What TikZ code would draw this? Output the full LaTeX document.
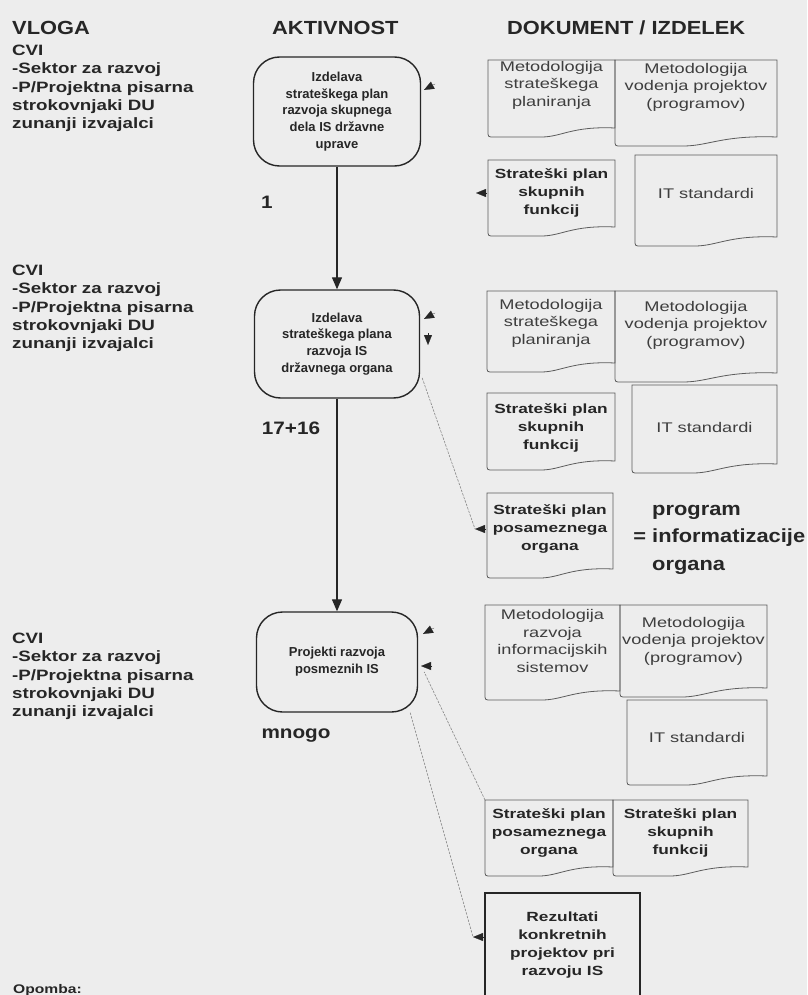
\documentclass[tikz,border=0pt]{standalone}
\usepackage{fontspec}
\setmainfont{Liberation Sans}
\newfontfamily\headfont[FakeStretch=1.15]{Liberation Sans}
\newfontfamily\rolefont[FakeStretch=1.25]{Liberation Sans}
\newfontfamily\actfont{Liberation Sans}
\newfontfamily\docfont[FakeStretch=1.3]{Liberation Sans}
\newfontfamily\bigfont[FakeStretch=1.15]{Liberation Sans}
\usetikzlibrary{arrows.meta,calc}

\definecolor{paper}{RGB}{237,237,237}
\definecolor{ink}{RGB}{38,38,38}
\definecolor{docink}{RGB}{62,62,62}
\definecolor{docedge}{RGB}{92,92,92}
\definecolor{thinline}{RGB}{135,135,135}

\tikzset{
  head/.style={anchor=base west, inner sep=0, text=ink,
    font=\headfont\bfseries\fontsize{19}{22}\selectfont},
  role/.style={anchor=north west, inner sep=0, align=left, text=ink,
    font=\rolefont\bfseries\fontsize{15}{18.3}\selectfont},
  activity/.style={draw=ink, line width=1.4pt, rounded corners=26pt,
    align=center, text=ink, inner sep=0,
    font=\actfont\bfseries\fontsize{13}{16.8}\selectfont},
  count/.style={inner sep=0, text=ink,
    font=\bigfont\bfseries\fontsize{18}{21}\selectfont},
  doctext/.style={anchor=north west, inner sep=0, outer sep=0, align=center,
    text=docink, font=\docfont\fontsize{14}{17.5}\selectfont},
  docbold/.style={doctext, text=ink,
    font=\docfont\bfseries\fontsize{13.3}{18}\selectfont},
  docline/.style={draw=docedge, line width=0.8pt},
  result/.style={docbold, draw=ink, line width=1.3pt},
  flow/.style={draw=ink, line width=1.3pt, -{Triangle[width=10pt,length=12pt]}},
  stub/.style={draw=ink, line width=0.2pt, -{Triangle[width=8pt,length=10pt]}},
  trace/.style={draw=thinline, line width=0.6pt, dash pattern=on 2.5pt off 1.2pt},
}

% outline of a document symbol around node #1; #2 = depth of the wavy
% bottom below the node's lower edge
\newcommand\docshape[2]{%
  \draw[docline] let \p1=(#1.south west), \p2=(#1.north east) in
    (\x1,\y2) -- (\x2,\y2) -- (\x2,{\y1-#2pt+9pt})
    .. controls ({\x1+0.66*(\x2-\x1)},{\y1-#2pt+11pt})
            and ({\x1+0.58*(\x2-\x1)},{\y1-#2pt})
    .. ({\x1+0.42*(\x2-\x1)},{\y1-#2pt})
    -- ({\x1+6pt},{\y1-#2pt})
    .. controls (\x1,{\y1-#2pt}) .. (\x1,{\y1-#2pt+6pt}) -- cycle;}

\begin{document}
\begin{tikzpicture}[x=1pt,y=-1pt]
\useasboundingbox (0,0) rectangle (807,995);
\fill[paper] (0,0) rectangle (807,995);
\clip (0,0) rectangle (807,995);

% column heads
\node[head] (hrole) at (12,35) {VLOGA};
\node[head] (hact) at (272,35) {AKTIVNOST};
\node[head] (hdoc) at (507,35) {DOKUMENT / IZDELEK};

% roles
\node[role] (r1) at (12,45) {CVI\\-Sektor za razvoj\\-P/Projektna pisarna\\strokovnjaki DU\\zunanji izvajalci};
\node[role] (r2) at (12,265) {CVI\\-Sektor za razvoj\\-P/Projektna pisarna\\strokovnjaki DU\\zunanji izvajalci};
\node[role] (r3) at (12,633) {CVI\\-Sektor za razvoj\\-P/Projektna pisarna\\strokovnjaki DU\\zunanji izvajalci};
\node[role, font=\rolefont\bfseries\fontsize{12.5}{15}\selectfont] (remark) at (13,984) {Opomba:};

% activities
\node[activity, minimum width=167pt, minimum height=109pt] (a1) at (337,111.5)
  {Izdelava\\strateškega plan\\razvoja skupnega\\dela IS državne\\uprave};
\node[activity, minimum width=165pt, minimum height=108pt] (a2) at (337,344)
  {Izdelava\\strateškega plana\\razvoja IS\\državnega organa};
\node[activity, minimum width=161pt, minimum height=100pt] (a3) at (337,662)
  {Projekti razvoja\\posmeznih IS};

\draw[flow] (a1) -- (a2);
\draw[flow] (a2) -- (a3);

\node[count] (c1) at (267,202) {1};
\node[count] (c2) at (291,428) {17+16};
\node[count] (c3) at (296,736) {mnogo};

% documents, first group
\node[doctext, minimum width=127pt, minimum height=50pt] (d1a) at (488,60) {Metodologija\\strateškega\\planiranja};
\node[doctext, minimum width=162pt, minimum height=54pt] (d1b) at (615,60) {Metodologija\\vodenja projektov\\(programov)};
\node[docbold, minimum width=127pt, minimum height=66pt] (d1c) at (488,160) {Strateški plan\\skupnih\\funkcij};
\node[doctext, minimum width=142pt, minimum height=76pt] (d1d) at (635,155) {IT standardi};
\docshape{d1a}{27}
\docshape{d1b}{32}
\docshape{d1c}{10}
\docshape{d1d}{15}

% documents, second group
\node[doctext, minimum width=128pt, minimum height=64pt] (d2a) at (487,291) {Metodologija\\strateškega\\planiranja};
\node[doctext, minimum width=162pt, minimum height=68pt] (d2b) at (615,291) {Metodologija\\vodenja projektov\\(programov)};
\node[docbold, minimum width=128pt, minimum height=70pt] (d2c) at (487,393) {Strateški plan\\skupnih\\funkcij};
\node[doctext, minimum width=145pt, minimum height=84pt] (d2d) at (632,385) {IT standardi};
\docshape{d2a}{17}
\docshape{d2b}{23}
\docshape{d2c}{7}
\docshape{d2d}{4}

% documents, third group
\node[docbold, minimum width=126pt, minimum height=72pt] (d3a) at (487,493) {Strateški plan\\posameznega\\organa};
\docshape{d3a}{13}
\node[anchor=north west, inner sep=0, align=left, text=ink,
  font=\bigfont\bfseries\fontsize{19}{27.5}\selectfont] (note) at (652,505)
  {program\\\llap{= }informatizacije\\organa};

% documents, fourth group
\node[doctext, minimum width=135pt, minimum height=72pt] (d4a) at (485,605) {Metodologija\\razvoja\\informacijskih\\sistemov};
\node[doctext, minimum width=147pt, minimum height=72pt] (d4b) at (620,605) {Metodologija\\vodenja projektov\\(programov)};
\node[doctext, minimum width=140pt, minimum height=74pt] (d4c) at (627,700) {IT standardi};
\docshape{d4a}{23}
\docshape{d4b}{20}
\docshape{d4c}{11}

% documents, fifth group
\node[docbold, minimum width=128pt, minimum height=66pt] (d5a) at (485,800) {Strateški plan\\posameznega\\organa};
\node[docbold, minimum width=135pt, minimum height=66pt] (d5b) at (613,800) {Strateški plan\\skupnih\\funkcij};
\docshape{d5a}{10}
\docshape{d5b}{10}

\node[result, minimum width=155pt, minimum height=104pt] (rez) at (485,893)
  {Rezultati\\konkretnih\\projektov pri\\razvoju IS};

% arrow heads on the activities and documents
\coordinate (i1s) at (435,84);  \coordinate (i1e) at (424,90);
\draw[stub] (i1s) -- (i1e);
\coordinate (o1s) at ([xshift=-1pt]d1c.west); \coordinate (o1e) at ([xshift=-12pt]d1c.west);
\draw[stub] (o1s) -- (o1e);
\coordinate (i2s) at (435,313); \coordinate (i2e) at (424,319);
\draw[stub] (i2s) -- (i2e);
\coordinate (i3s) at (428,333); \coordinate (i3e) at (428,345);
\draw[stub] (i3s) -- (i3e);
\coordinate (i4s) at (434,628); \coordinate (i4e) at (423,634);
\draw[stub] (i4s) -- (i4e);
\coordinate (i5s) at (432,666); \coordinate (i5e) at (421,666);
\draw[stub] (i5s) -- (i5e);
\coordinate (o2s) at ([xshift=-1pt]d3a.west); \coordinate (o2e) at ([xshift=-12pt]d3a.west);
\draw[stub] (o2s) -- (o2e);
\coordinate (o3s) at ([xshift=-1pt,yshift=8pt]rez.west); \coordinate (o3e) at ([xshift=-12pt,yshift=8pt]rez.west);
\draw[stub] (o3s) -- (o3e);

% thin traces between activities and documents
\draw[trace] ([xshift=2pt,yshift=-34pt]a2.east) -- (o2e);
\draw[trace] (d5a.north west) -- ([xshift=6pt,yshift=-10pt]a3.east);
\draw[trace] ([xshift=-8pt]a3.south east) -- (o3e);
\end{tikzpicture}
\end{document}
